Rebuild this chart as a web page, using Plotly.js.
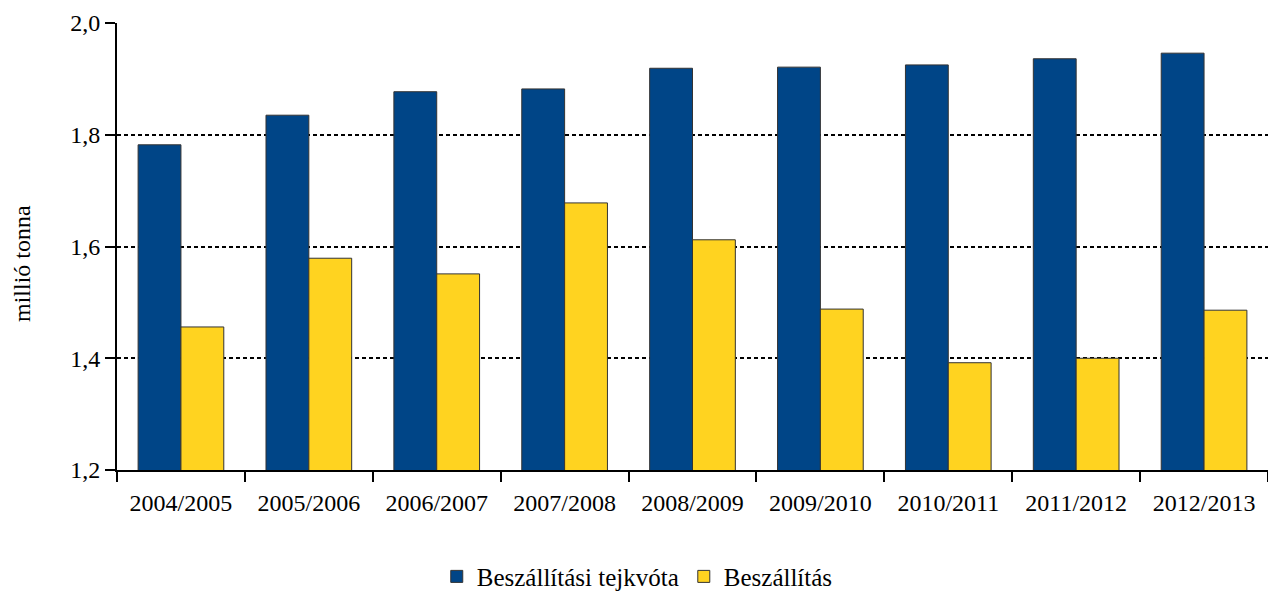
<!DOCTYPE html>
<html><head><meta charset="utf-8">
<script src="https://cdn.plot.ly/plotly-3.0.1.min.js"></script>
<style>body{margin:0;}#c{width:1268px;height:600px;}</style>
</head><body><div id="c"></div>
<script>
const categories = ['2004/2005','2005/2006','2006/2007','2007/2008','2008/2009','2009/2010','2010/2011','2011/2012','2012/2013'];
const kvota = [1.782,1.835,1.877,1.882,1.919,1.921,1.925,1.936,1.946];
const beszallitas = [1.456,1.579,1.551,1.678,1.612,1.488,1.392,1.400,1.486];
const seriesNames = ['Beszállítási tejkvóta','Beszállítás'];
const yTicks = [1.2,1.4,1.6,1.8,2.0];
const yTickText = ['1,2','1,4','1,6','1,8','2,0'];
const yTitle = 'millió tonna';

const FAM = 'Liberation Serif';
const traces = [
 {type:'bar', name:seriesNames[0], x:categories, y:kvota,
  marker:{color:'#004587', line:{color:'#333', width:1}}},
 {type:'bar', name:seriesNames[1], x:categories, y:beszallitas,
  marker:{color:'#FFD320', line:{color:'#333', width:1}}}
];
const layout = {
 width:1268, height:600, paper_bgcolor:'#fff', plot_bgcolor:'#fff',
 margin:{l:117, r:0, t:23, b:130, autoexpand:false},
 font:{family:FAM, color:'#000', size:24}, barmode:'group', bargap:0.33, bargroupgap:0,
 showlegend:true,
 legend:{orientation:'h', x:0.452, xanchor:'center', y:-0.29, yanchor:'bottom',
  font:{family:FAM, size:25, color:'#000'}, itemwidth:20},
 xaxis:{type:'category', tickson:'boundaries', ticks:'outside', ticklen:10, tickwidth:2, tickcolor:'#000',
  showline:true, linecolor:'#000', linewidth:2, showgrid:false, tickangle:0, ticklabelstandoff:10,
  tickfont:{family:FAM, size:24, color:'#000'}, range:[-0.5,8.5]},
 yaxis:{range:[1.2,2.0], tickvals:yTicks, ticktext:yTickText, ticks:'outside', ticklen:10, tickwidth:2,
  tickcolor:'#000', showline:true, linecolor:'#000', linewidth:2,
  showgrid:true, gridcolor:'#000', griddash:'4px,3px', gridwidth:1.5, zeroline:false,
  tickfont:{family:FAM, size:24, color:'#000'}},
 annotations:[{text:yTitle, xref:'paper', yref:'paper', x:-0.0825, y:0.461, xanchor:'center', yanchor:'middle',
  textangle:-90, showarrow:false, font:{family:FAM, size:24, color:'#000'}}]
};
Plotly.newPlot('c', traces, layout, {displayModeBar:false});
</script></body></html>
